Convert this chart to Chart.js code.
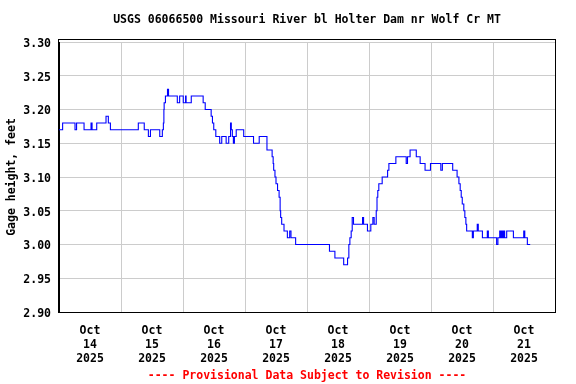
<!DOCTYPE html>
<html>
<head>
<meta charset="utf-8">
<script src="https://cdn.jsdelivr.net/npm/chart.js@4.4.1/dist/chart.umd.min.js"></script>
<style>
  html, body { margin: 0; padding: 0; background: #fff; }
  canvas { display: block; }
</style>
</head>
<body>
<canvas id="gage" width="576" height="384"></canvas>
<script>
// hours since Oct 14 2025 00:00, and the gage height that starts at that hour
const hours = [
    0, 1.4, 6.2, 6.8, 9.7, 12.4, 12.8, 14.6, 18.2, 19.1, 19.9, 30.7, 33.0, 34.6, 35.4, 39.0,
    40.0, 40.4, 40.6, 40.7, 41.2, 42.0, 42.4, 45.8, 46.7, 48.1, 49.0, 49.2, 51.2, 55.8, 56.6,
    58.9, 59.4, 59.9, 60.7, 62.2, 63.0, 64.7, 65.7, 66.4, 66.7, 67.1, 67.5, 67.9, 68.6, 71.5,
    75.3, 77.5, 80.5, 82.5, 82.9, 83.1, 83.6, 84.0, 84.6, 85.2, 85.6, 85.8, 86.2, 87.1, 88.4,
    89.3, 89.8, 91.6, 104.7, 106.8, 110.2, 111.7, 112.2, 112.6, 113.1, 113.5, 114.0, 117.5,
    117.9, 119.4, 120.7, 121.5, 122.0, 122.8, 123.1, 123.4, 123.8, 125.1, 127.2, 127.7, 130.4,
    134.4, 134.9, 135.9, 138.3, 139.8, 141.7, 143.8, 147.8, 148.4, 152.4, 154.1, 154.8, 155.3,
    155.7, 156.1, 156.7, 157.1, 157.5, 157.8, 160.0, 160.4, 161.9, 162.3, 163.9, 165.8, 166.2,
    169.4, 169.9, 170.6, 171.0, 171.4, 171.8, 172.2, 172.5, 173.3, 175.9, 179.9, 180.3, 181.3,
    182.4
];

const gageFeet = [
    3.17, 3.18, 3.17, 3.18, 3.17, 3.18, 3.17, 3.18, 3.19, 3.18, 3.17, 3.18, 3.17, 3.16, 3.17, 3.16,
    3.17, 3.18, 3.20, 3.21, 3.22, 3.23, 3.22, 3.21, 3.22, 3.21, 3.22, 3.21, 3.22, 3.21, 3.20,
    3.19, 3.18, 3.17, 3.16, 3.15, 3.16, 3.15, 3.16, 3.18, 3.17, 3.16, 3.15, 3.16, 3.17, 3.16,
    3.15, 3.16, 3.14, 3.13, 3.12, 3.11, 3.10, 3.09, 3.08, 3.07, 3.05, 3.04, 3.03, 3.02, 3.01,
    3.02, 3.01, 3.00, 2.99, 2.98, 2.97, 2.98, 3.00, 3.01, 3.02, 3.04, 3.03, 3.04,
    3.03, 3.02, 3.03, 3.04, 3.03, 3.05, 3.07, 3.08, 3.09, 3.10, 3.11, 3.12, 3.13,
    3.12, 3.13, 3.14, 3.13, 3.12, 3.11, 3.12, 3.11, 3.12, 3.11, 3.10, 3.09, 3.08,
    3.07, 3.06, 3.05, 3.04, 3.03, 3.02, 3.01, 3.02, 3.03, 3.02, 3.01, 3.02, 3.01,
    3.00, 3.01, 3.02, 3.01, 3.02, 3.01, 3.02, 3.01, 3.02, 3.01, 3.02, 3.01, 3.00,
    3.00
];

const month = 'Oct';
const days = ['14', '15', '16', '17', '18', '19', '20', '21'];
const year = '2025';

const monoFont = '"DejaVu Sans Mono", "Liberation Mono", monospace';

// black box round the plot area (its top sits a little above the 3.30 line)
const plotFrame = {
    id: 'plotFrame',
    afterDatasetsDraw(chart) {
        const { ctx, chartArea: a } = chart;
        const left = Math.round(a.left) - 0.5;
        const top = Math.round(a.top) - 2.5;
        ctx.save();
        ctx.strokeStyle = '#000';
        ctx.lineWidth = 1;
        ctx.strokeRect(left, top, Math.round(a.right) + 0.5 - left, Math.round(a.bottom) + 0.5 - top);
        ctx.restore();
    }
};

new Chart(document.getElementById('gage').getContext('2d'), {
    type: 'line',
    data: {
        datasets: [{
            data: hours.map((h, i) => ({ x: h, y: gageFeet[i] })),
            borderColor: '#0000ff',
            borderWidth: 1.1,
            pointRadius: 0,
            stepped: true,
            fill: false
        }]
    },
    options: {
        responsive: false,
        animation: false,
        layout: { padding: { left: 0, right: 21, top: 0, bottom: 0 } },
        scales: {
            x: {
                type: 'linear',
                min: 0,
                max: 192,
                afterFit: s => { s.height = 56; },
                border: { color: '#000', width: 1 },
                grid: {
                    drawTicks: false,
                    color: ctx => (ctx.tick && ctx.tick.value % 24 === 0) ? '#cccccc' : 'rgba(0,0,0,0)'
                },
                ticks: {
                    stepSize: 12,
                    autoSkip: false,
                    maxRotation: 0,
                    padding: 12,
                    color: '#000',
                    font: { family: monoFont, size: 11.5, weight: 'bold', lineHeight: '14px' },
                    callback: v => {
                        if (v % 24 !== 12) return '';
                        return [month, days[(v - 12) / 24], year];
                    }
                }
            },
            y: {
                min: 2.90,
                max: 3.30,
                afterFit: s => { s.width = 59; },
                border: { color: '#000', width: 1 },
                grid: { drawTicks: false, color: '#cccccc' },
                ticks: {
                    stepSize: 0.05,
                    padding: 8,
                    labelOffset: 2,
                    color: '#000',
                    font: { family: monoFont, size: 11.5, weight: 'bold' },
                    callback: v => v.toFixed(2)
                },
                title: {
                    display: true,
                    text: 'Gage height, feet',
                    color: '#000',
                    padding: { top: 5, bottom: 0 },
                    font: { family: monoFont, size: 11.5, weight: 'bold', lineHeight: '14px' }
                }
            }
        },
        plugins: {
            legend: { display: false },
            tooltip: { enabled: false },
            title: {
                display: true,
                fullSize: false,
                text: 'USGS 06066500 Missouri River bl Holter Dam nr Wolf Cr MT',
                color: '#000',
                padding: { top: 13, bottom: 15 },
                font: { family: monoFont, size: 11.5, weight: 'bold', lineHeight: '14px' }
            },
            subtitle: {
                display: true,
                fullSize: false,
                position: 'bottom',
                text: '---- Provisional Data Subject to Revision ----',
                color: '#ff0000',
                padding: { top: 1, bottom: 1 },
                font: { family: monoFont, size: 11.5, weight: 'bold', lineHeight: '14px' }
            }
        }
    },
    plugins: [plotFrame]
});
</script>
</body>
</html>
